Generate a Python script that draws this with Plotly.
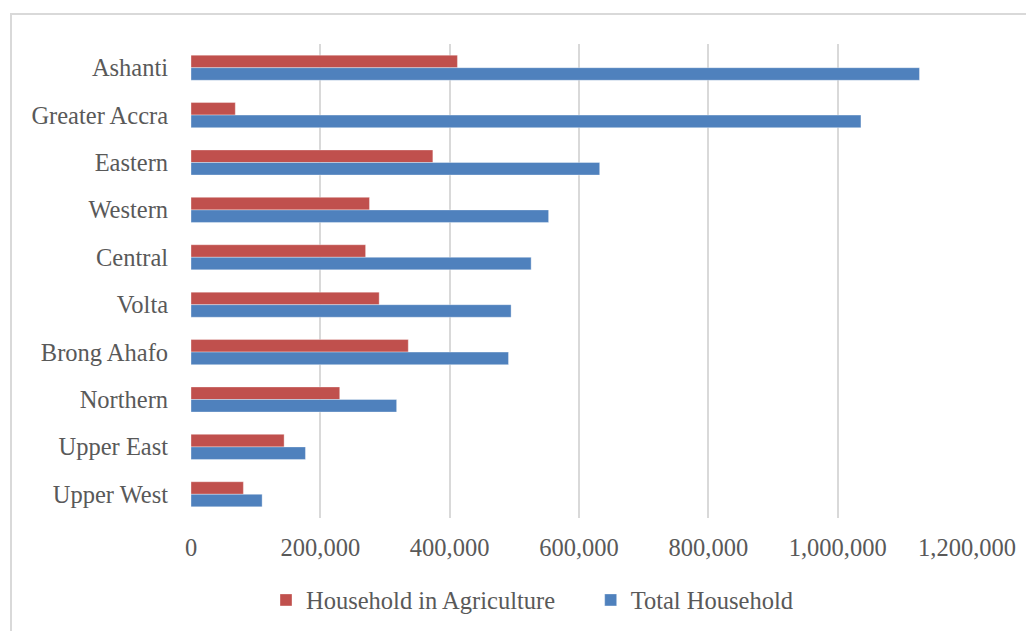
import plotly.graph_objects as go

regions = ["Ashanti", "Greater Accra", "Eastern", "Western", "Central",
           "Volta", "Brong Ahafo", "Northern", "Upper East", "Upper West"]
household_agriculture = [412000, 68500, 374000, 276000, 270000,
                         291000, 336000, 230000, 144000, 81000]
total_household = [1126500, 1036000, 632000, 553000, 526000,
                   495000, 491000, 318000, 177000, 110000]
x_ticks = [0, 200000, 400000, 600000, 800000, 1000000, 1200000]
x_tick_labels = ["0", "200,000", "400,000", "600,000", "800,000", "1,000,000", "1,200,000"]

FONT = "Liberation Serif"
FS = 24.5
TXT = "#595959"
GRID = "#d9d9d9"
NB = "\u00a0"

fig = go.Figure()
fig.add_trace(go.Bar(
    y=regions, x=household_agriculture, orientation="h",
    name="Household in Agriculture" + NB * 5,
    marker=dict(color="#C0504D", line=dict(color="rgba(255,255,255,0.35)", width=1)),
))
fig.add_trace(go.Bar(
    y=regions, x=total_household, orientation="h",
    name="Total Household",
    marker=dict(color="#4F81BD", line=dict(color="rgba(255,255,255,0.35)", width=1)),
))

# page body has an 8px margin, so the figure is offset by 8px; compensate
fig.update_layout(
    width=1026, height=623,
    margin=dict(l=183, r=67, t=36, b=113, autoexpand=False),
    paper_bgcolor="white", plot_bgcolor="white",
    barmode="group", bargap=0.47, bargroupgap=0,
    font=dict(family=FONT, size=FS, color=TXT),
    showlegend=True,
    legend=dict(orientation="h", x=(266 - 191) / 776, xanchor="left", y=-0.173, yanchor="middle",
                font=dict(family=FONT, size=FS, color=TXT), itemwidth=30,
                bgcolor="rgba(0,0,0,0)"),
    xaxis=dict(range=[0, 1200000], tickvals=x_ticks, ticktext=x_tick_labels,
               showgrid=True, gridcolor=GRID, gridwidth=2, zeroline=False,
               showline=False, ticks="outside", ticklen=8, tickcolor="rgba(0,0,0,0)",
               tickfont=dict(family=FONT, size=FS, color=TXT), fixedrange=True),
    yaxis=dict(autorange="reversed", showgrid=False, zeroline=False,
               showline=False, ticks="outside", ticklen=17, tickcolor="rgba(0,0,0,0)",
               tickfont=dict(family=FONT, size=FS, color=TXT), fixedrange=True),
    shapes=[dict(type="rect", xref="paper", yref="paper",
                 x0=(11 - 191) / 776, x1=1.2, y0=-0.5, y1=1 + 30 / 474,
                 line=dict(color=GRID, width=2), fillcolor="rgba(0,0,0,0)", layer="below")],
)

fig.write_html("out.html")
